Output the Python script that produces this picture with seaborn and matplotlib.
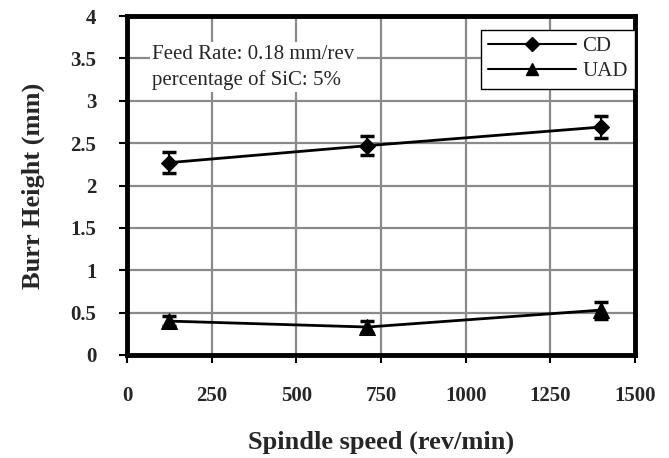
import matplotlib
matplotlib.use("Agg")
import matplotlib.pyplot as plt
import seaborn as sns
import pandas as pd
from matplotlib.lines import Line2D

speed = [125, 710, 1400]
cd_height = [2.27, 2.47, 2.69]
cd_err = [0.12, 0.11, 0.13]
uad_height = [0.40, 0.33, 0.53]
uad_err = [0.06, 0.07, 0.10]
series_names = ["CD", "UAD"]
x_ticks = [0, 250, 500, 750, 1000, 1250, 1500]
y_ticks = [0, 0.5, 1, 1.5, 2, 2.5, 3, 3.5, 4]
y_tick_labels = ["0", "0.5", "1", "1.5", "2", "2.5", "3", "3.5", "4"]

sns.set_theme(style="white")
plt.rcParams["font.family"] = ["Liberation Serif", "DejaVu Serif"]

df = pd.DataFrame({
    "speed": speed * 2,
    "height": cd_height + uad_height,
    "err": cd_err + uad_err,
    "series": [series_names[0]] * 3 + [series_names[1]] * 3,
})

fig = plt.figure(figsize=(6.69, 4.58), dpi=100)
ax = fig.add_axes([127 / 669, 1 - 355 / 458, (635 - 127) / 669, (355 - 16) / 458])

sns.lineplot(data=df, x="speed", y="height", style="series", markers={"CD": "D", "UAD": "^"},
             dashes=False, color="black", linewidth=2, markersize=8, markeredgecolor="black",
             ax=ax, legend=False)
for name in series_names:
    sub = df[df["series"] == name]
    ax.errorbar(sub["speed"], sub["height"], yerr=sub["err"], fmt="none", ecolor="black",
                elinewidth=1.5, capsize=5, capthick=2.5, zorder=3)

lines = ax.get_lines()
if len(lines) >= 2:
    lines[1].set_markersize(11)

ax.set_xlim(0, 1500)
ax.set_ylim(0, 4)
ax.set_xticks(x_ticks)
ax.set_yticks(y_ticks)
ax.set_yticklabels(y_tick_labels)
ax.grid(True, color="#8a8a8a", linewidth=1.6)
ax.set_axisbelow(True)
for s in ax.spines.values():
    s.set_color("black")
    s.set_linewidth(3.5)
ax.tick_params(axis="both", which="major", direction="out", length=6, width=1.5,
               color="black", labelsize=15, bottom=True, left=True)
for lab in ax.get_xticklabels() + ax.get_yticklabels():
    lab.set_fontweight("bold")
ax.tick_params(axis="x", pad=16)
ax.tick_params(axis="y", pad=16)

ax.set_xlabel("Spindle speed (rev/min)", fontsize=19, fontweight="bold", labelpad=18)
ax.set_ylabel("Burr Height (mm)", fontsize=19, fontweight="bold", labelpad=18)

ax.text(0.05, 0.915, "Feed Rate: 0.18 mm/rev\npercentage of SiC: 5%", transform=ax.transAxes,
        fontsize=15, va="top", ha="left", linespacing=1.4,
        bbox=dict(facecolor="white", edgecolor="none", pad=2))

handles = [Line2D([], [], color="black", marker="D", markersize=7, linewidth=1.5),
           Line2D([], [], color="black", marker="^", markersize=8, linewidth=1.5)]
leg = ax.legend(handles, series_names, loc="upper right", bbox_to_anchor=(1.0, 0.96),
                borderaxespad=0, fontsize=15, frameon=True, fancybox=False, edgecolor="black",
                framealpha=1, borderpad=0.35, handlelength=4.2, labelspacing=0.25,
                handletextpad=0.3)
leg.get_frame().set_linewidth(1.0)

fig.savefig("out.png", dpi=100)
